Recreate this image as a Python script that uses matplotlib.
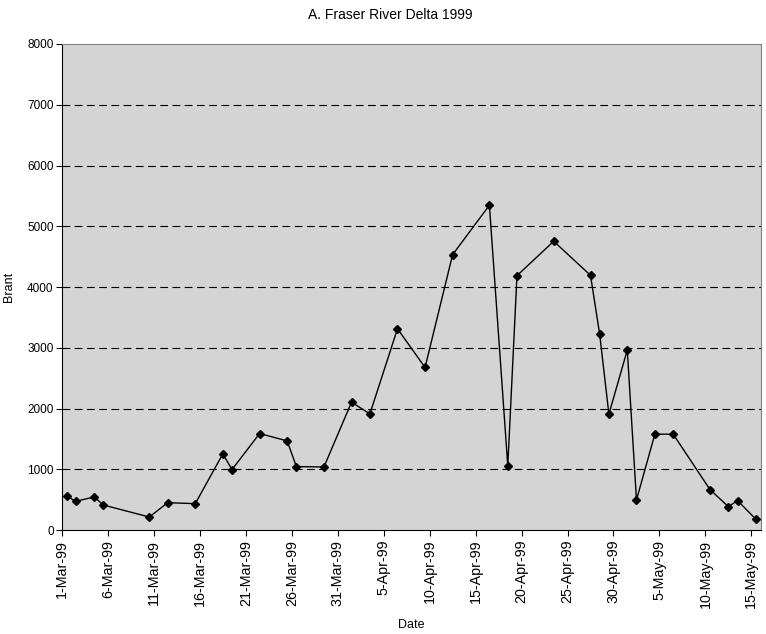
import datetime as dt
import matplotlib
matplotlib.use("Agg")
import matplotlib.pyplot as plt
import matplotlib.dates as mdates

# survey dates (1999) and brant counts
dates = ["1999-03-01", "1999-03-02", "1999-03-04", "1999-03-05", "1999-03-10",
         "1999-03-12", "1999-03-15", "1999-03-18", "1999-03-19", "1999-03-22",
         "1999-03-25", "1999-03-26", "1999-03-29", "1999-04-01", "1999-04-03",
         "1999-04-06", "1999-04-09", "1999-04-12", "1999-04-16", "1999-04-18",
         "1999-04-19", "1999-04-23", "1999-04-27", "1999-04-28", "1999-04-29",
         "1999-05-01", "1999-05-02", "1999-05-04", "1999-05-06", "1999-05-10",
         "1999-05-12", "1999-05-13", "1999-05-15"]
brant = [560, 473, 544, 412, 214, 450, 434, 1253, 995, 1588, 1467, 1044, 1038,
         2104, 1912, 3313, 2676, 4533, 5346, 1055, 4187, 4753, 4192, 3220, 1907,
         2962, 495, 1577, 1577, 665, 385, 484, 176]
y_ticks = [0, 1000, 2000, 3000, 4000, 5000, 6000, 7000, 8000]

plt.rcParams["font.family"] = ["Liberation Sans", "DejaVu Sans"]

days = [dt.datetime.strptime(d, "%Y-%m-%d") + dt.timedelta(hours=12) for d in dates]

fig = plt.figure(figsize=(7.66, 6.34), dpi=100)
ax = fig.add_axes([0.0809, 0.164, 0.912, 0.7666])
ax.set_facecolor("#d4d4d4")

for v in y_ticks[1:-1]:
    ax.axhline(v, color="black", linewidth=0.8, dashes=(7, 4), zorder=1)

ax.plot(days, brant, color="black", linewidth=1.0, marker="D", markersize=4.5,
        markerfacecolor="black", markeredgecolor="black", zorder=3)

ax.set_xlim(dt.datetime(1999, 3, 1), dt.datetime(1999, 5, 16))
ax.set_ylim(0, 8000)

tick_days = [dt.datetime(1999, 3, 1) + dt.timedelta(days=5 * i) for i in range(16)]
ax.set_xticks(mdates.date2num(tick_days))
ax.set_xticklabels([f"{d.day}-{d.strftime('%b-%y')}" for d in tick_days],
                   rotation=90, fontsize=10.3)
ax.set_yticks(y_ticks)
ax.set_yticklabels([str(v) for v in y_ticks], fontsize=8.5)
ax.tick_params(axis="both", direction="out", length=4, width=0.8, color="black", pad=2)
ax.tick_params(axis="x", pad=3)

for side in ["top", "right"]:
    ax.spines[side].set_color("#808080")
    ax.spines[side].set_linewidth(0.8)
for side in ["left", "bottom"]:
    ax.spines[side].set_color("black")
    ax.spines[side].set_linewidth(0.8)

fig.text(0.51, 0.977, "A. Fraser River Delta 1999", ha="center", va="center", fontsize=10)
ax.set_xlabel("Date", fontsize=9, labelpad=8)
ax.set_ylabel("Brant", fontsize=9, labelpad=9)

fig.savefig("out.png", dpi=100)
